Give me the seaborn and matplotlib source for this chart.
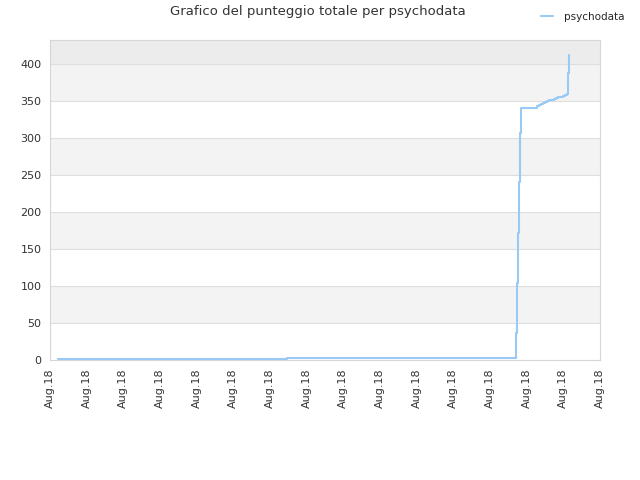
import matplotlib
matplotlib.use("Agg")
import matplotlib.pyplot as plt
import seaborn as sns
import pandas as pd
from matplotlib.lines import Line2D

# Data (x in tick-index units, 16 ticks all labelled "Aug.18")
tick_labels = ["Aug.18"] * 16
x_pos = [0.22, 6.46, 12.70, 12.73, 12.76, 12.79, 12.82, 12.85, 13.04, 13.28,
         13.33, 13.38, 13.44, 13.50, 13.56, 13.62, 13.68, 13.74, 13.80, 13.86,
         13.92, 13.98, 14.04, 14.09, 14.13, 14.15, 14.16]
score = [0.8, 2.5, 36, 104, 172, 240, 307, 340, 341, 343,
         345, 346, 347, 349, 350, 351, 352, 353, 354, 355,
         356, 357, 358, 360, 388, 412, 412]
y_ticks = [0, 50, 100, 150, 200, 250, 300, 350, 400]
series_name = "psychodata"

df = pd.DataFrame({"x": x_pos, "punteggio": score})

sns.set_theme(style="white")
plt.rcParams['font.family'] = ['DejaVu Sans']

fig = plt.figure(figsize=(6.4, 4.8), dpi=100)
ax = fig.add_axes([50/640, 1-360/480, 550/640, 320/480])

line_color = "#99c9f5"
ymax = 432.4
# background bands
for i, y0 in enumerate(y_ticks):
    y1 = min(y0 + 50, ymax)
    if y0 >= 400:
        c = "#ececec"
    elif i % 2 == 1:
        c = "#f3f3f3"
    else:
        c = "#ffffff"
    ax.axhspan(y0, y1, color=c, zorder=0, lw=0)
for y in y_ticks[1:]:
    ax.axhline(y, color="#dedede", lw=0.8, zorder=1)

sns.lineplot(data=df, x="x", y="punteggio", ax=ax, color=line_color,
             drawstyle="steps-post", lw=1.5, zorder=3, legend=False)

ax.set_xlim(0, 15)
ax.set_ylim(0, ymax)
ax.set_xticks(range(16))
ax.set_xticklabels(tick_labels, rotation=90, fontsize=8, color="#333333")
ax.set_yticks(y_ticks)
ax.set_yticklabels([str(v) for v in y_ticks], fontsize=8, color="#333333")
ax.set_xlabel("")
ax.set_ylabel("")
ax.tick_params(length=0, pad=6)
for s in ax.spines.values():
    s.set_color("#d6d6d6")
    s.set_linewidth(0.8)

fig.text(318/640, 1-12/480, "Grafico del punteggio totale per psychodata",
         ha="center", va="center", fontsize=9.5, color="#333333")
handle = Line2D([0], [0], color=line_color, lw=1.5)
fig.legend([handle], [series_name], loc="upper right", bbox_to_anchor=(0.99, 0.995),
           frameon=False, fontsize=7.5, handlelength=1.2, handletextpad=1.0)

fig.savefig("out.png", dpi=100)
